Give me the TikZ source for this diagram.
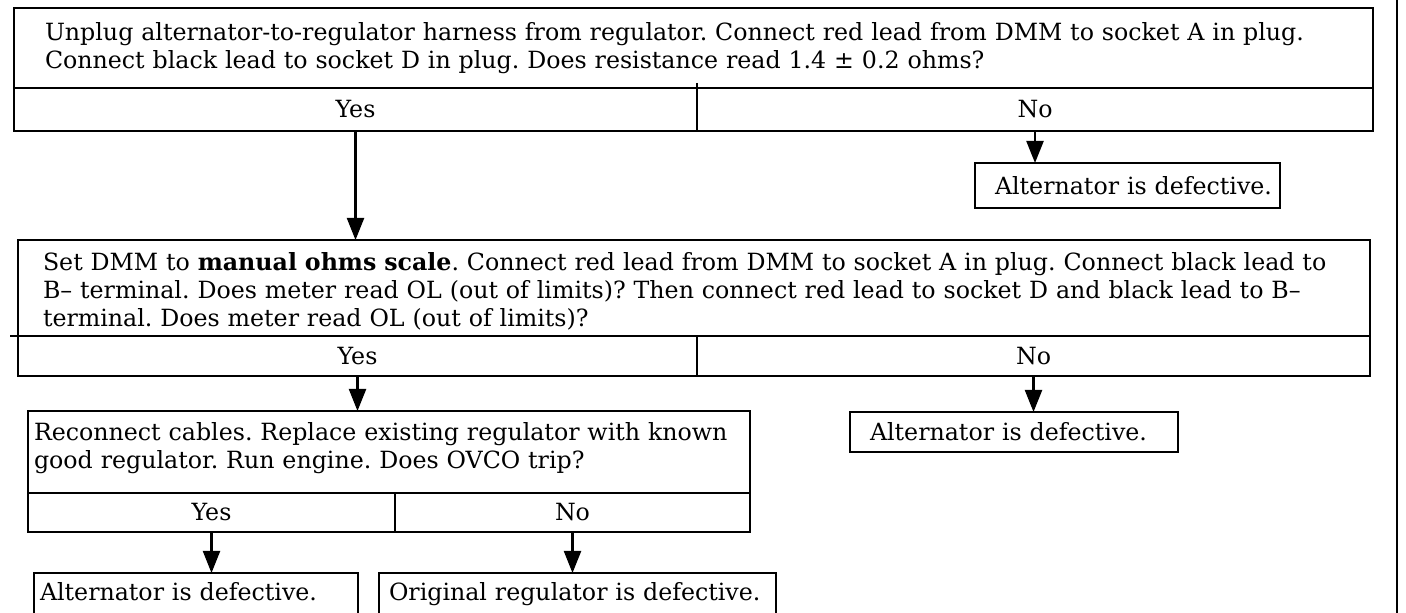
\documentclass[tikz,border=0pt]{standalone}
\usepackage{fontspec}
\setmainfont{DejaVu Serif}
\usetikzlibrary{arrows.meta}
\newcommand{\fcfont}{\fontsize{11.85pt}{14pt}\selectfont\frenchspacing}
\begin{document}
\begin{tikzpicture}[x=0.5pt,y=-0.5pt,
  every node/.style={font=\fcfont, inner sep=0pt, outer sep=0pt},
  box/.style={draw, line width=1.1pt},
  qbox/.style={box, align=left, anchor=north west},
  cell/.style={box, anchor=north west},
  endbox/.style={box, anchor=north west, align=left},
  conn/.style={line width=1.1pt, -{Triangle[length=11pt,width=8.5pt]}},
  rule/.style={line width=1.1pt}
]
\clip (0,0) rectangle (1406,613);

% page rule on the right
\draw[rule] (1397,0) -- (1397,613);

% decision 1
\node[qbox, minimum width=679.5pt, minimum height=40pt, text width=648.5pt, inner xsep=15.5pt] (q1) at (14,8)
 {\mbox{Unplug alternator-to-regulator harness from regulator. Connect red lead from DMM to socket A in plug.}\\
  \mbox{Connect black lead to socket D in plug. Does resistance read 1.4 ± 0.2 ohms?}};
\node[cell, minimum width=341.5pt, minimum height=21.5pt] (y1) at (14,88) {Yes};
\node[cell, minimum width=338pt, minimum height=21.5pt] (n1) at (697,88) {No};
\draw[rule] (697,83) -- (n1.north west);

\node[endbox, minimum width=152.5pt, minimum height=22.5pt, text width=152.5pt] (a1) at (975,163)
 {\hspace*{10pt}\mbox{Alternator is defective.}};

% decision 2
\node[qbox, minimum width=676pt, minimum height=48pt, text width=651pt, inner xsep=12.5pt] (q2) at (18,240)
 {\rule{0pt}{12.5pt}\mbox{Set DMM to \textbf{manual ohms scale}. Connect red lead from DMM to socket A in plug. Connect black lead to}\\
  \mbox{B– terminal. Does meter read OL (out of limits)? Then connect red lead to socket D and black lead to B–}\\
  \mbox{terminal. Does meter read OL (out of limits)?}};
\node[cell, minimum width=339.5pt, minimum height=20pt] (y2) at (18,336) {Yes};
\node[cell, minimum width=336.5pt, minimum height=20pt] (n2) at (697,336) {No};
\draw[rule] (10,336) -- (y2.north west);

\node[endbox, minimum width=164pt, minimum height=20pt, text width=164pt] (a2) at (850,412)
 {\hspace*{10pt}\mbox{Alternator is defective.}};

% decision 3
\node[qbox, minimum width=361pt, minimum height=41pt, text width=355pt, inner xsep=3pt] (q3) at (28,411)
 {\mbox{Reconnect cables. Replace existing regulator with known}\\
  \mbox{good regulator. Run engine. Does OVCO trip?}\vspace*{4pt}};
\node[cell, minimum width=183.5pt, minimum height=19.5pt] (y3) at (28,493) {Yes};
\node[cell, minimum width=177.5pt, minimum height=19.5pt] (n3) at (395,493) {No};

\node[endbox, text width=162pt, text height=13.5pt, text depth=10pt] (f1) at (34,573)
 {\hspace*{3pt}\mbox{Alternator is defective.}};
\node[endbox, text width=198.5pt, text height=13.5pt, text depth=10pt] (f2) at (379,573)
 {\hspace*{5pt}\mbox{Original regulator is defective.}};

% connectors
\draw[conn] (y1.south) -- (y1.south |- q2.north);
\draw[conn] (n1.south) -- (n1.south |- a1.north);
\draw[conn] (y2.south) -- (y2.south |- q3.north);
\draw[conn] (n2.south) -- (n2.south |- a2.north);
\draw[conn] (y3.south) -- (y3.south |- f1.north);
\draw[conn] (n3.south) -- (n3.south |- f2.north);
\end{tikzpicture}
\end{document}
